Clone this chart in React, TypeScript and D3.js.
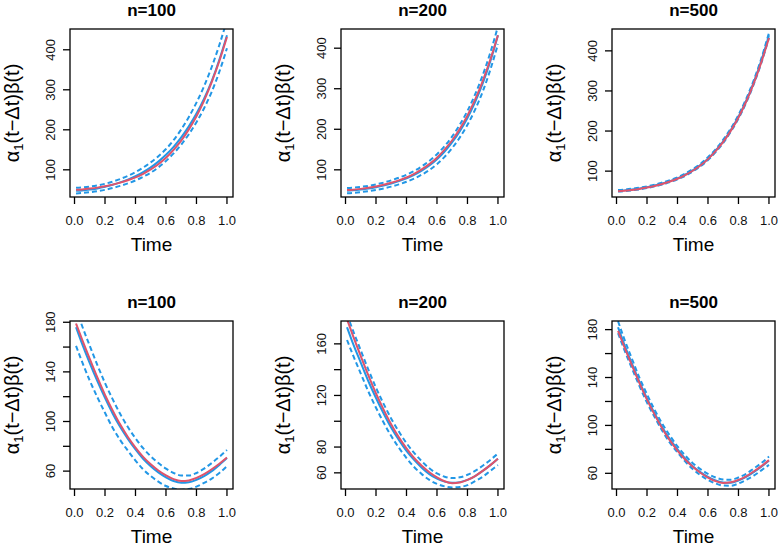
import * as d3 from 'd3'

// time grid shared by all curves
const T = [0.01, 0.05, 0.1, 0.15, 0.2, 0.25, 0.3, 0.35, 0.4, 0.45, 0.5, 0.55, 0.6, 0.65, 0.7, 0.75, 0.8, 0.85, 0.9, 0.95, 1.0]

// top row: true curve and estimates with bands
const topTrue = [50, 51, 53, 55.5, 59, 63, 68, 74, 81, 90, 101, 114, 130, 150, 173, 201, 234, 273, 319, 372, 432]
const top100Est = [47.6, 48.5, 50.5, 53.5, 57.5, 62.5, 68.5, 75.5, 84, 94, 106, 120.5, 137.5, 157.5, 181, 208.5, 240.5, 278, 322, 375, 436.4]
const top100Up = [55, 56, 58, 61, 65, 70.5, 77, 85, 94.5, 105.5, 118.5, 134, 152, 174, 201, 232, 268, 309, 357, 412, 474]
const top100Lo = [41, 42, 44, 46.5, 50, 54.5, 60, 66, 73.5, 82.5, 93, 106, 122, 141, 163, 189, 219, 254, 295, 345, 404]
const top200Est = [48.3, 49.3, 51.3, 53.8, 57, 61, 66, 72, 79, 87.5, 98, 110.5, 126, 145, 168, 195.5, 228, 267, 313, 368, 432]
const top200Up = [55, 56, 58, 60.5, 64, 68.5, 74, 80.5, 88, 97, 108.5, 122, 138.5, 158.5, 182.5, 211.5, 245.5, 286, 333.5, 389, 454]
const top200Lo = [42, 43, 45, 47.5, 50.5, 54, 58.5, 64, 70.5, 78.5, 88, 99.5, 114, 132, 154, 180, 211, 248.5, 293, 347, 410]
const top500Est = [51, 52, 54, 56.5, 60, 64, 69, 75, 82, 91, 102, 115, 131, 151, 174.5, 202.5, 235.5, 275, 321.5, 375.5, 439]
const top500Up = [53, 54, 56, 58.5, 62, 66, 71.5, 77.5, 84.5, 94, 105, 118, 134.5, 154.5, 178.5, 206.5, 240, 280, 326.5, 381, 445]
const top500Lo = [49, 50, 52, 54.5, 58, 62, 66.5, 72.5, 79.5, 88, 99, 112, 127.5, 147.5, 170.5, 198.5, 231, 270, 316.5, 370, 433]

// bottom row
const botTrue = [179, 166, 150.5, 135.5, 121.5, 109, 97.5, 87.5, 79, 71.5, 65.5, 60.5, 56.5, 53.5, 52, 52.5, 54.5, 57.5, 61.5, 66, 71]
const bot100Est = [176, 162.5, 147, 132.5, 119, 106.5, 95.5, 86, 77.5, 70, 64, 59, 55, 52, 50.6, 51, 53, 56, 60, 65, 70.5]
const bot100Up = [191, 177, 161, 145.5, 131, 118, 106, 95.5, 86.5, 78.5, 72, 66.5, 62, 58.5, 56.5, 56.5, 58.5, 62, 66.5, 71.5, 77]
const bot100Lo = [161, 148, 133, 119.5, 107, 95, 85, 76.5, 68.5, 61.5, 56, 51.5, 48, 46, 45, 45.5, 47.5, 50.5, 54, 58.5, 64]
const bot200Est = [172.9, 160, 145.5, 131, 118, 106, 95, 85.5, 77, 70, 64, 59, 55.5, 53.2, 52.3, 52.8, 54.5, 57.5, 61.5, 66, 71]
const bot200Up = [183, 170, 155, 140, 126, 113.5, 102, 92, 83, 75.5, 69, 63.5, 59.5, 57, 56, 56.5, 58.5, 61.5, 65.5, 70, 75]
const bot200Lo = [163, 151, 137, 123, 110.5, 99, 88.5, 79.5, 71.5, 64.5, 59, 54.5, 51.5, 49.5, 48.7, 49, 50.5, 53.5, 57, 61.5, 66]
const bot500Est = [182, 168, 152, 136.5, 122.5, 110, 98.5, 88.5, 80, 72.5, 66, 61, 57, 54, 52.3, 52.1, 54, 57, 61, 65.5, 70.5]
const bot500Up = [187, 172.5, 156, 140, 126, 113, 101.5, 91.5, 82.5, 75, 68.5, 63.5, 59.5, 56.5, 54.8, 54.6, 56.5, 59.5, 64, 68.5, 74]
const bot500Lo = [177, 163.5, 148, 133, 119, 107, 95.5, 85.5, 77.5, 70, 63.5, 58.5, 54.5, 51.5, 49.8, 49.6, 51.5, 54.5, 58, 62.5, 67]

const xTicks = [0, 0.2, 0.4, 0.6, 0.8, 1.0]
const topYTicks = [100, 200, 300, 400]
const topYLabels = [100, 200, 300, 400]
const botYTicks180 = [60, 80, 100, 120, 140, 160, 180]
const botYLabels180 = [60, 100, 140, 180]
const botYTicks160 = [60, 80, 100, 120, 140, 160]
const botYLabels160 = [60, 80, 120, 160]

const titles = ['n=100', 'n=200', 'n=500']

const panels = [
  { row: 0, col: 0, truth: topTrue, est: top100Est, up: top100Up, lo: top100Lo, ticks: topYTicks, labels: topYLabels },
  { row: 0, col: 1, truth: topTrue, est: top200Est, up: top200Up, lo: top200Lo, ticks: topYTicks, labels: topYLabels },
  { row: 0, col: 2, truth: topTrue, est: top500Est, up: top500Up, lo: top500Lo, ticks: topYTicks, labels: topYLabels },
  { row: 1, col: 0, truth: botTrue, est: bot100Est, up: bot100Up, lo: bot100Lo, ticks: botYTicks180, labels: botYLabels180 },
  { row: 1, col: 1, truth: botTrue, est: bot200Est, up: bot200Up, lo: bot200Lo, ticks: botYTicks160, labels: botYLabels160 },
  { row: 1, col: 2, truth: botTrue, est: bot500Est, up: bot500Up, lo: bot500Lo, ticks: botYTicks180, labels: botYLabels180 },
]

const RED = '#DF536B'
const BLUE = '#2297E6'
const FONT = '"Liberation Sans", Arial, Helvetica, sans-serif'

// R style 4% padding
function pad(ext: [number, number]): [number, number] {
  const d = (ext[1] - ext[0]) * 0.04
  return [ext[0] - d, ext[1] + d]
}

function Panel({ p, i }: { p: typeof panels[0]; i: number }) {
  const left = 70 + p.col * 271
  const top = 29 + p.row * 292
  const w = 163
  const h = 168
  const x = d3.scaleLinear().domain(pad(d3.extent(T) as [number, number])).range([left, left + w])
  const y = d3.scaleLinear().domain(pad(d3.extent(p.est) as [number, number])).range([top + h, top])
  const line = d3.line<number>()
    .x((_, k) => x(T[k]))
    .y((d) => y(d))
    .curve(d3.curveMonotoneX)
  const clip = `clip${i}`
  const cy = top + h / 2
  return (
    <g>
      <defs>
        <clipPath id={clip}>
          <rect x={left} y={top} width={w} height={h} />
        </clipPath>
      </defs>
      <g clipPath={`url(#${clip})`} fill="none" strokeWidth={2}>
        <path d={line(p.est) || ''} stroke={BLUE} />
        <path d={line(p.up) || ''} stroke={BLUE} strokeDasharray="5,3" />
        <path d={line(p.lo) || ''} stroke={BLUE} strokeDasharray="5,3" />
        <path d={line(p.truth) || ''} stroke={RED} />
      </g>
      <rect x={left} y={top} width={w} height={h} fill="none" stroke="#000" strokeWidth={1.3} />
      {xTicks.map((t) => (
        <g key={'x' + t}>
          <line x1={x(t)} x2={x(t)} y1={top + h} y2={top + h + 7} stroke="#000" strokeWidth={1.3} />
          <text x={x(t)} y={top + h + 28} textAnchor="middle" fontSize={13} fill="#111">{t.toFixed(1)}</text>
        </g>
      ))}
      {p.ticks.map((v) => (
        <line key={'y' + v} x1={left - 7} x2={left} y1={y(v)} y2={y(v)} stroke="#000" strokeWidth={1.3} />
      ))}
      {p.labels.map((v) => (
        <text key={'yl' + v} transform={`translate(${left - 15},${y(v)}) rotate(-90)`} textAnchor="middle" fontSize={13} fill="#111">{v}</text>
      ))}
      <text x={left + w / 2} y={top - 13} textAnchor="middle" fontSize={17} fontWeight="bold">{titles[p.col]}</text>
      <text x={left + w / 2} y={top + h + 54} textAnchor="middle" fontSize={19}>Time</text>
      <text transform={`translate(${left - 51},${cy}) rotate(-90)`} textAnchor="middle" fontSize={20}>
        α<tspan fontSize={13} dy={4}>1</tspan><tspan dy={-4}>(t−Δt)β(t)</tspan>
      </text>
    </g>
  )
}

export default function App() {
  return (
    <svg width={778} height={547} style={{ position: 'absolute', left: 0, top: 0, background: '#fff', fontFamily: FONT }}>
      <rect width={778} height={547} fill="#fff" />
      {panels.map((p, i) => <Panel key={i} p={p} i={i} />)}
    </svg>
  )
}
